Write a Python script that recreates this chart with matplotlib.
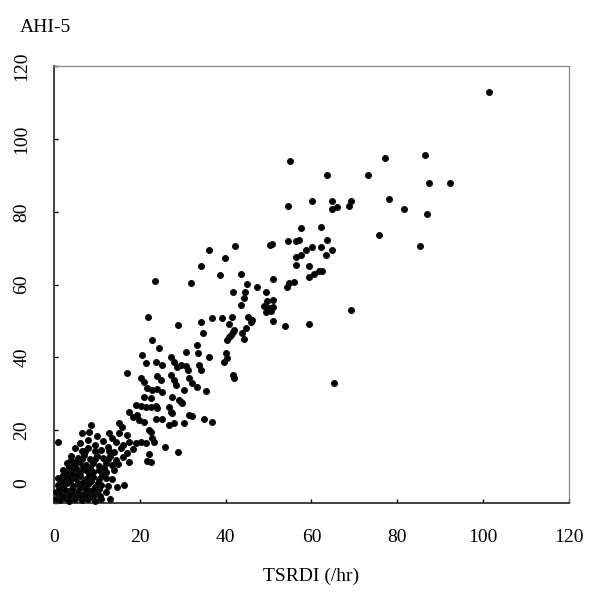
import matplotlib
matplotlib.use('Agg')
import matplotlib.pyplot as plt
import matplotlib.transforms as mtransforms
import numpy as np

# TSRDI vs AHI-5
upper = [
    (101.4, 112.9), (77.2, 94.8), (86.5, 95.7), (87.3, 87.8), (92.2, 87.8),
    (78.1, 83.4), (81.6, 80.9), (86.9, 79.5), (75.8, 73.6), (85.2, 70.7),
    (69.2, 53.0), (65.2, 33.0),
    (63.5, 90.1), (73.2, 90.1), (60.2, 83.0), (64.7, 83.0), (69.2, 83.0),
    (68.8, 81.6), (64.7, 80.8), (66.0, 81.2), (57.5, 75.6), (62.2, 75.9),
    (63.5, 72.3), (57.1, 72.3), (58.7, 69.5), (60.2, 70.2), (62.2, 70.4),
    (64.7, 69.5), (63.3, 68.1), (57.5, 68.1), (59.4, 65.1), (55.0, 94.0),
    (54.6, 81.7), (50.4, 70.9), (50.9, 71.2), (54.6, 72.0), (56.3, 72.0),
    (56.3, 65.4), (56.3, 67.7), (59.4, 62.2), (60.6, 62.9), (61.8, 63.6),
    (62.5, 63.8),
]
middle = [
    (42.2, 70.7), (36.0, 69.4), (39.9, 67.2), (34.2, 65.1), (43.5, 62.9),
    (38.7, 62.5), (51.0, 61.4), (54.8, 60.5), (55.9, 60.8), (54.4, 59.3),
    (44.9, 60.2), (41.7, 58.1), (47.2, 59.3), (49.3, 58.1), (44.4, 58.1),
    (44.3, 56.2), (49.7, 55.6), (51.0, 55.8), (48.9, 54.1), (50.1, 53.5),
    (51.0, 53.9), (49.3, 52.6), (50.5, 52.8), (43.5, 54.4), (34.2, 49.8),
    (36.9, 50.7), (39.1, 50.7), (41.4, 51.2), (45.3, 51.2), (45.9, 49.8),
    (40.8, 49.2), (51.0, 50.1), (53.8, 48.6), (59.4, 49.2), (23.6, 61.0),
    (32.0, 60.3), (46.2, 50.3), (44.7, 48.0), (43.9, 46.6), (42.0, 47.5),
    (41.2, 46.2), (44.3, 45.0), (21.9, 51.2), (28.9, 48.9), (34.7, 46.6),
    (41.6, 47.1), (40.8, 45.7), (40.4, 44.8), (22.9, 44.8), (24.5, 42.5),
    (33.4, 43.4), (33.6, 41.1), (30.7, 41.4), (36.0, 40.0), (40.0, 41.1),
    (40.4, 39.8), (39.6, 38.8), (20.6, 40.7), (27.2, 40.0), (21.4, 38.4),
    (23.8, 38.8), (25.2, 37.9), (28.0, 38.8), (28.7, 37.4), (29.5, 37.9),
    (30.7, 37.6), (31.3, 36.5), (33.8, 37.9), (34.2, 36.5), (17.1, 35.8),
    (20.2, 34.3), (21.0, 33.3), (24.1, 34.9), (24.9, 33.8), (27.2, 35.2),
    (28.0, 33.8), (28.4, 32.4), (31.5, 34.3), (32.2, 33.0), (30.3, 31.0),
    (33.4, 31.8), (35.4, 30.9), (41.6, 35.2), (42.0, 34.3), (21.7, 31.5),
    (22.9, 31.0), (24.1, 31.2), (25.2, 30.6), (21.0, 29.2), (22.5, 28.8),
    (27.6, 29.2), (29.1, 28.3), (19.0, 26.9), (20.2, 26.6), (21.4, 26.5),
    (22.5, 26.3), (26.8, 26.5), (27.2, 25.1), (31.5, 24.2), (17.5, 25.1),
    (35.0, 23.0), (36.9, 22.3), (32.1, 23.9), (29.5, 27.8), (29.9, 27.6),
    (24.1, 26.0), (27.6, 24.6), (23.7, 23.0), (25.2, 23.0), (26.8, 21.4),
    (28.0, 22.1), (30.3, 22.1), (22.5, 19.6), (22.9, 17.8), (23.3, 16.8),
    (25.9, 15.5), (29.0, 14.1), (22.1, 13.6), (22.5, 11.3),
]
lower = [
    (23.8, 26.6), (18.3, 23.7), (19.4, 24.2), (19.8, 22.8), (21.0, 22.3),
    (8.6, 21.4), (15.2, 22.1), (15.9, 21.0), (22.1, 20.1), (6.6, 19.1),
    (8.2, 19.6), (1.0, 16.8), (12.8, 19.1), (13.6, 17.8), (14.4, 16.8),
    (15.2, 19.1), (17.1, 18.7), (17.5, 16.8), (19.0, 16.4), (20.2, 16.8),
    (21.4, 16.4), (17.5, 11.3), (21.7, 11.5), (14.6, 4.5), (16.3, 5.0),
    (10.0, 18.5), (11.5, 17.0), (6.0, 16.5), (8.0, 17.2), (9.5, 16.0),
    (12.5, 15.5), (16.0, 16.0), (18.5, 14.8), (5.0, 15.0), (6.5, 14.2),
    (8.0, 15.0), (11.0, 14.5), (14.0, 14.0), (15.5, 15.2), (17.0, 13.8),
    (4.0, 13.0), (5.5, 12.5), (7.0, 13.2), (8.5, 12.2), (10.0, 13.0),
    (11.5, 12.4), (13.0, 12.8), (14.5, 11.8), (16.0, 12.6), (3.0, 11.0),
    (4.5, 10.5), (6.0, 11.2), (7.5, 10.4), (9.0, 11.0), (10.5, 10.2),
    (12.0, 11.0), (13.5, 10.4), (15.0, 10.8), (2.0, 9.0), (3.0, 8.2),
    (4.5, 9.2), (6.0, 8.5), (7.5, 9.0), (9.0, 8.4), (10.5, 9.2),
    (12.0, 8.6), (14.0, 9.0), (1.0, 7.0), (2.5, 6.5), (3.5, 7.4),
    (5.0, 6.8), (6.0, 7.5), (7.5, 6.6), (9.0, 7.2), (10.5, 6.5),
    (12.0, 7.0), (13.5, 6.6), (1.0, 5.0), (2.0, 4.5), (3.0, 5.4),
    (4.5, 4.8), (5.5, 5.6), (6.5, 4.6), (8.0, 5.2), (9.5, 4.4),
    (11.0, 5.0), (12.5, 4.6), (0.5, 3.0), (1.5, 2.6), (3.0, 3.4),
    (4.0, 2.8), (5.5, 3.2), (7.0, 2.5), (8.5, 3.4), (10.0, 2.8),
    (12.0, 3.0), (0.5, 1.0), (1.5, 0.8), (2.5, 1.4), (3.5, 0.6),
    (5.0, 1.2), (6.5, 0.8), (8.0, 1.0), (9.5, 0.6), (11.0, 1.2),
    (13.0, 1.0),
    # extra points filling the dense bottom-left mass
    (2.0, 2.0), (3.5, 1.8), (4.8, 2.2), (6.2, 1.8), (7.8, 1.8), (9.2, 2.0),
    (10.8, 2.0), (1.2, 3.8), (2.6, 3.6), (4.2, 3.8), (6.0, 4.0), (7.4, 3.8),
    (9.0, 3.6), (10.6, 3.8), (1.8, 5.8), (3.8, 6.0), (6.8, 5.8), (8.6, 6.0),
    (10.2, 5.6), (2.0, 7.8), (4.2, 8.0), (5.4, 7.6), (8.2, 7.8), (11.2, 7.8),
    (3.6, 9.8), (5.2, 9.6), (6.8, 9.8), (8.4, 9.6), (11.6, 9.6), (4.0, 11.8),
    (5.2, 11.2), (6.6, 12.0), (9.6, 12.0), (12.6, 12.0), (7.2, 14.4),
    (9.6, 14.2), (12.8, 14.2),
]

xticks = [0, 20, 40, 60, 80, 100, 120]
yticks = [0, 20, 40, 60, 80, 100, 120]

pts = np.array(upper + middle + lower)

plt.rcParams['font.family'] = ['Liberation Serif', 'DejaVu Serif']

fig = plt.figure(figsize=(5.89, 5.96), dpi=100)
ax = fig.add_axes([0.0917, 0.156, 0.8743, 0.733])

ax.scatter(pts[:, 0], pts[:, 1], s=18, c='black', marker='o', linewidths=0.8,
           edgecolors='#111111', clip_on=False, zorder=3)

ax.set_xlim(0, 120)
ax.set_ylim(0, 120)
ax.set_xticks(xticks)
ax.set_yticks(yticks)
ax.tick_params(direction='in', length=3, width=1, labelsize=14)
ax.tick_params(axis='x', pad=19)
ax.tick_params(axis='y', pad=17)
for lab in ax.get_yticklabels():
    lab.set_rotation(90)
    lab.set_va('center')

# the 0 label on the y axis sits a bit higher in the original
ylab0 = ax.get_yticklabels()[0]
ylab0.set_transform(ylab0.get_transform() + mtransforms.ScaledTranslation(0, 20 / 100, fig.dpi_scale_trans))

ax.spines['left'].set_color('#333333')
ax.spines['bottom'].set_color('#333333')
ax.spines['left'].set_linewidth(1.3)
ax.spines['bottom'].set_linewidth(1.3)
ax.spines['top'].set_color('#888888')
ax.spines['right'].set_color('#888888')
ax.spines['top'].set_linewidth(0.9)
ax.spines['right'].set_linewidth(0.9)

ax.set_xlabel('TSRDI (/hr)', fontsize=14, labelpad=15)
fig.text(20 / 589, 1 - 27 / 596, 'AHI-5', fontsize=14, va='center', ha='left')

plt.savefig('out.png', dpi=100)
